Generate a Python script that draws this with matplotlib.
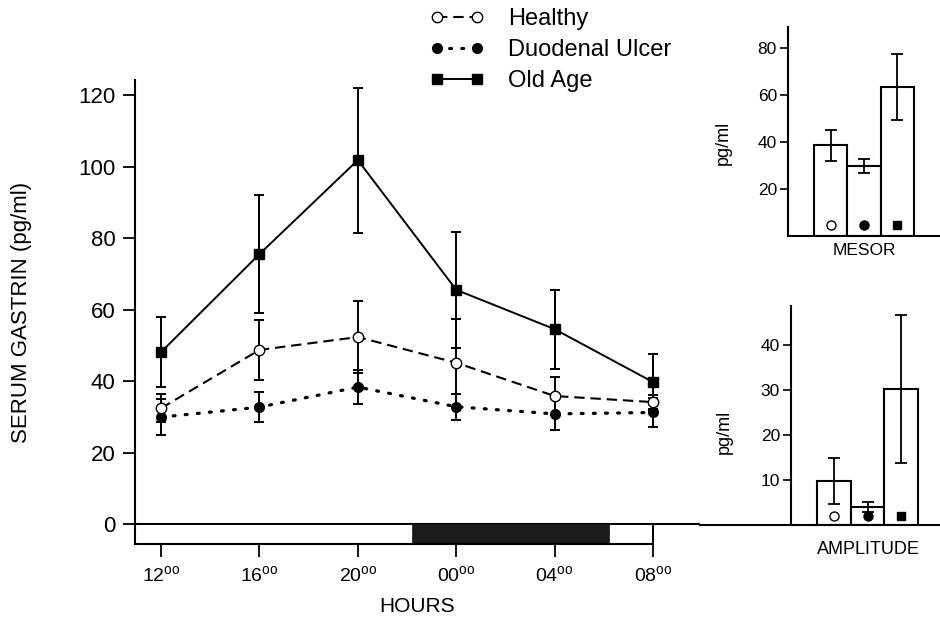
import matplotlib
matplotlib.use("Agg")
import matplotlib.pyplot as plt
from matplotlib.patches import Rectangle

plt.rcParams['font.family'] = ['Liberation Sans', 'DejaVu Sans']
plt.rcParams['mathtext.fontset'] = 'custom'
plt.rcParams['mathtext.rm'] = 'Liberation Sans'
plt.rcParams['hatch.color'] = '#777777'

# ---------------- data ----------------
hours = [12, 16, 20, 24, 28, 32]
hour_labels = ['12', '16', '20', '00', '04', '08']

healthy = [32.4, 48.7, 52.3, 45.1, 35.8, 34.1]
healthy_err = [4.0, 8.3, 10.0, 12.3, 5.3, 2.0]

ulcer = [29.9, 32.7, 38.3, 32.8, 30.8, 31.2]
ulcer_err = [5.0, 4.3, 4.7, 3.6, 4.5, 4.0]

old_age = [48.1, 75.5, 101.8, 65.5, 54.5, 39.7]
old_age_err = [9.9, 16.6, 20.3, 16.2, 11.0, 7.8]

dark_start, dark_end = 22.2, 30.2   # shaded (dark) period on the time bar

groups = ['Healthy', 'Duodenal Ulcer', 'Old Age']
mesor = [38.7, 29.8, 63.5]
mesor_err = [6.6, 3.1, 14.0]
amplitude = [9.8, 4.1, 30.2]
amplitude_err = [5.1, 1.1, 16.5]

# ---------------- figure ----------------
W, H = 940, 618
fig = plt.figure(figsize=(W / 100, H / 100), dpi=100)


def px_axes(x0, y_top, x1, y_bot):
    return fig.add_axes([x0 / W, (H - y_bot) / H, (x1 - x0) / W, (y_bot - y_top) / H])


ax = px_axes(135, 80, 700, 544)
ax.set_xlim(10.94, 33.91)
ax.set_ylim(-5.59, 124.2)

styles = {
    'Healthy': dict(ls=(0, (5, 2.8)), marker='o', mfc='white', mec='black', ms=7.5, lw=1.5),
    'Duodenal Ulcer': dict(ls=(0, (0.6, 3.2)), marker='o', mfc='black', mec='black', ms=7, lw=2.3,
                           dash_capstyle='round'),
    'Old Age': dict(ls='-', marker='s', mfc='black', mec='black', ms=6.5, lw=1.4),
}
series = [(healthy, healthy_err, 'Healthy'),
          (ulcer, ulcer_err, 'Duodenal Ulcer'),
          (old_age, old_age_err, 'Old Age')]

handles = []
for vals, errs, name in series:
    ax.errorbar(hours, vals, yerr=errs, fmt='none', ecolor='black', elinewidth=1.4,
                capsize=3.5, capthick=1.4, zorder=2)
for vals, errs, name in series:
    z = 4 if name == 'Healthy' else 3
    ln, = ax.plot(hours, vals, color='black', label=name, zorder=z, **styles[name])
    handles.append(ln)

# zero line across, time bar below
ax.axhline(0, color='black', lw=1.5, zorder=1)
ymin = ax.get_ylim()[0]
ax.add_patch(Rectangle((ax.get_xlim()[0], ymin), hours[-1] - ax.get_xlim()[0], -ymin,
                       facecolor='white', edgecolor='black', lw=1.4, zorder=1))
ax.add_patch(Rectangle((dark_start, ymin), dark_end - dark_start, -ymin,
                       facecolor='#1a1a1a', edgecolor='#1a1a1a', hatch='xxxx', lw=0.5, zorder=1.5))

for s in ['top', 'right']:
    ax.spines[s].set_visible(False)
ax.spines['bottom'].set_bounds(ax.get_xlim()[0], hours[-1])
ax.spines['left'].set_linewidth(1.5)
ax.spines['bottom'].set_linewidth(1.5)

ax.set_yticks([0, 20, 40, 60, 80, 100, 120])
ax.tick_params(axis='y', direction='out', length=9, width=1.3, pad=5, labelsize=16)
ax.set_xticks(hours)
ax.set_xticklabels([r'%s$^{\mathregular{oo}}$' % h for h in hour_labels])
ax.tick_params(axis='x', direction='out', length=9, width=1.3, pad=6, labelsize=14)

ax.set_ylabel('SERUM GASTRIN (pg/ml)', fontsize=16)
ax.yaxis.set_label_coords(-0.182, 0.5)
ax.set_xlabel('HOURS', fontsize=15, labelpad=8)

leg = fig.legend(handles=handles, loc='upper left', bbox_to_anchor=(430 / W, 1 - 8 / H),
                 frameon=False, numpoints=2, handlelength=2.3, handletextpad=1.0,
                 labelspacing=0.38, borderpad=0, borderaxespad=0, fontsize=17)

# ---------------- insets ----------------
inset_markers = [dict(marker='o', mfc='white', mec='black', ms=6.5),
                 dict(marker='o', mfc='black', mec='black', ms=6.5),
                 dict(marker='s', mfc='black', mec='black', ms=6)]
xpos = [0, 1, 2]


def draw_bars(a, vals, errs, marker_y):
    a.bar(xpos, vals, width=1.0, color='white', edgecolor='black', lw=1.5, zorder=2)
    a.errorbar(xpos, vals, yerr=errs, fmt='none', ecolor='black', elinewidth=1.3,
               capsize=4, capthick=1.3, zorder=3)
    for x, mk in zip(xpos, inset_markers):
        a.plot([x], [marker_y], color='black', ls='none', zorder=4, **mk)
    for s in ['top', 'right']:
        a.spines[s].set_visible(False)
    a.spines['left'].set_linewidth(1.5)
    a.spines['bottom'].set_linewidth(1.5)
    a.set_xticks([])
    a.tick_params(axis='y', direction='out', length=6, width=1.2, pad=2, labelsize=12.5)


ax_m = px_axes(788, 27, 940, 236)
ax_m.set_xlim(-1.27, 3.27)
ax_m.set_ylim(0, 89)
draw_bars(ax_m, mesor, mesor_err, 4.7)
ax_m.set_yticks([20, 40, 60, 80])
ax_m.set_ylabel('pg/ml', fontsize=13)
ax_m.yaxis.set_label_coords(-0.37, 0.445)
ax_m.text(0.5, -0.035, 'MESOR', transform=ax_m.transAxes, ha='center', va='top', fontsize=12.5)

ax_a = px_axes(700, 306, 940, 525)
ax_a.set_xlim(-4.0, 3.16)
ax_a.set_ylim(0, 48.7)
draw_bars(ax_a, amplitude, amplitude_err, 2.0)
ax_a.spines['left'].set_position(('data', -1.28))
ax_a.spines['left'].set_bounds(0, 48.7)
ax_a.set_yticks([10, 20, 30, 40])
ax_a.set_ylabel('pg/ml', fontsize=13)
ax_a.yaxis.set_label_coords(0.1375, 0.425)
ax_a.text(0.70, -0.075, 'AMPLITUDE', transform=ax_a.transAxes, ha='center', va='top', fontsize=13)

fig.savefig('out.png', dpi=100)
